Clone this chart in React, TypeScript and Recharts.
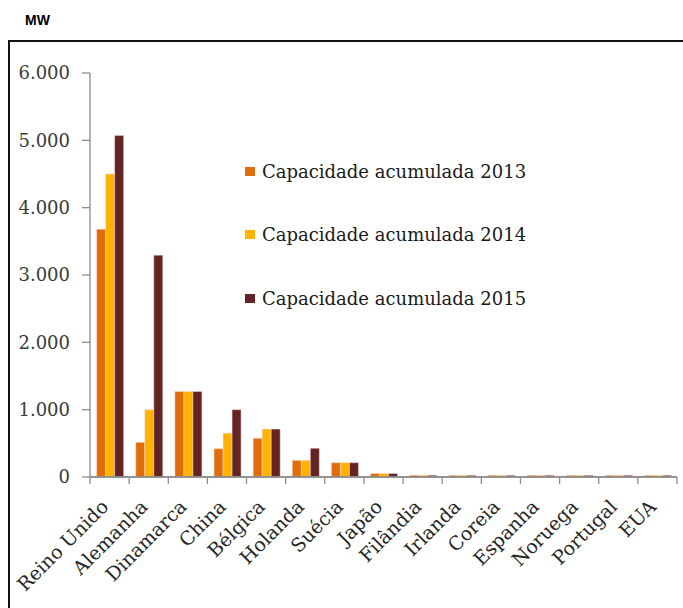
import React from 'react';
import { BarChart, Bar, XAxis, YAxis } from 'recharts';

// Offshore wind capacity (MW), cumulative, by country
const countries = [
  'Reino Unido', 'Alemanha', 'Dinamarca', 'China', 'Bélgica', 'Holanda', 'Suécia',
  'Japão', 'Filândia', 'Irlanda', 'Coreia', 'Espanha', 'Noruega', 'Portugal', 'EUA',
];
const cap2013 = [3680, 515, 1271, 420, 575, 247, 212, 52, 26, 25, 25, 25, 25, 25, 25];
const cap2014 = [4500, 1000, 1271, 650, 712, 247, 212, 52, 26, 25, 25, 25, 25, 25, 25];
const cap2015 = [5070, 3295, 1271, 1000, 712, 427, 212, 52, 26, 25, 25, 25, 25, 25, 25];

const seriesNames = [
  'Capacidade acumulada 2013',
  'Capacidade acumulada 2014',
  'Capacidade acumulada 2015',
];
const seriesKeys = ['c2013', 'c2014', 'c2015'];
const seriesColors = ['#E36C0A', '#FFB300', '#632423'];

const yTicks = [0, 1000, 2000, 3000, 4000, 5000, 6000];

const data = countries.map((name, i) => ({
  name,
  c2013: cap2013[i],
  c2014: cap2014[i],
  c2015: cap2015[i],
}));

const SERIF = '"DejaVu Serif", Georgia, serif';
const AXIS_GREY = '#8c8c8c';
const TICK_LEN = 7;

const CHART_W = 675;
const CHART_H = 600;
const Y_AXIS_W = 82;
const MARGIN = { top: 65, right: 6, left: 0, bottom: 0 };
const PLOT_W = CHART_W - Y_AXIS_W - MARGIN.left - MARGIN.right;

const formatThousands = (v: number) =>
  String(v).replace(/\B(?=(\d{3})+(?!\d))/g, '.');

// Category label plus tick marks on the band edges (half a band either side of the centre)
const CountryTick = (props: any) => {
  const { x, y, payload, index } = props;
  let half = Number(payload?.offset);
  if (!(half > 0)) half = PLOT_W / countries.length / 2;
  const isLast = index === countries.length - 1;
  return (
    <g>
      <line
        x1={x - half}
        x2={x - half}
        y1={y}
        y2={y + TICK_LEN}
        stroke={AXIS_GREY}
        strokeWidth={1.3}
      />
      {isLast && (
        <line
          x1={x + half}
          x2={x + half}
          y1={y}
          y2={y + TICK_LEN}
          stroke={AXIS_GREY}
          strokeWidth={1.3}
        />
      )}
      <line x1={x - half} x2={x + half} y1={y} y2={y} stroke={AXIS_GREY} strokeWidth={1.3} />
      <g transform={`translate(${x},${y + 31})`}>
        <text
          textAnchor="end"
          transform="rotate(-45)"
          fontFamily={SERIF}
          fontSize={19}
          fill="#262626"
        >
          {payload.value}
        </text>
      </g>
    </g>
  );
};

export default function App() {
  return (
    <div
      style={{
        position: 'fixed',
        left: 0,
        top: 0,
        width: 683,
        height: 608,
        overflow: 'hidden',
        background: '#fff',
      }}
    >
      <div
        style={{
          position: 'absolute',
          left: 25,
          top: 12,
          fontFamily: '"Liberation Sans", Arial, sans-serif',
          fontWeight: 'bold',
          fontSize: 14,
          lineHeight: '16px',
          color: '#000',
        }}
      >
        MW
      </div>
      <div
        style={{
          position: 'absolute',
          left: 8,
          top: 40,
          width: 720,
          height: 700,
          borderTop: '2px solid #111',
          borderLeft: '2px solid #111',
          boxSizing: 'border-box',
        }}
      />
      <div style={{ position: 'absolute', left: 8, top: 8 }}>
        <BarChart
          width={CHART_W}
          height={CHART_H}
          data={data}
          margin={MARGIN}
          barCategoryGap="17%"
          barGap={0}
        >
          <XAxis
            dataKey="name"
            type="category"
            interval={0}
            height={131}
            axisLine={{ stroke: AXIS_GREY, strokeWidth: 1.3 }}
            tickLine={false}
            tickSize={0}
            tickMargin={0}
            tick={<CountryTick />}
          />
          <YAxis
            width={Y_AXIS_W}
            domain={[0, 6000]}
            ticks={yTicks}
            interval={0}
            tickSize={8}
            tickMargin={12}
            tickFormatter={formatThousands}
            axisLine={{ stroke: AXIS_GREY, strokeWidth: 1.3 }}
            tickLine={{ stroke: AXIS_GREY, strokeWidth: 1.3 }}
            tick={{ fontFamily: SERIF, fontSize: 18, fill: '#3a3a3a' }}
          />
          {seriesKeys.map((k, i) => (
            <Bar
              key={k}
              dataKey={k}
              name={seriesNames[i]}
              fill={seriesColors[i]}
              stroke="#f4dcd4"
              strokeWidth={0.5}
              isAnimationActive={false}
            />
          ))}
        </BarChart>
      </div>
      <div style={{ position: 'absolute', left: 245, top: 158 }}>
        {seriesNames.map((n, i) => (
          <div
            key={n}
            style={{
              display: 'flex',
              alignItems: 'center',
              height: 26,
              marginBottom: i < seriesNames.length - 1 ? 37.5 : 0,
              fontFamily: SERIF,
              fontSize: 18,
              color: '#1a1a1a',
              whiteSpace: 'nowrap',
            }}
          >
            <span
              style={{
                display: 'inline-block',
                width: 10,
                height: 9,
                background: seriesColors[i],
                marginRight: 7,
              }}
            />
            {n}
          </div>
        ))}
      </div>
    </div>
  );
}
